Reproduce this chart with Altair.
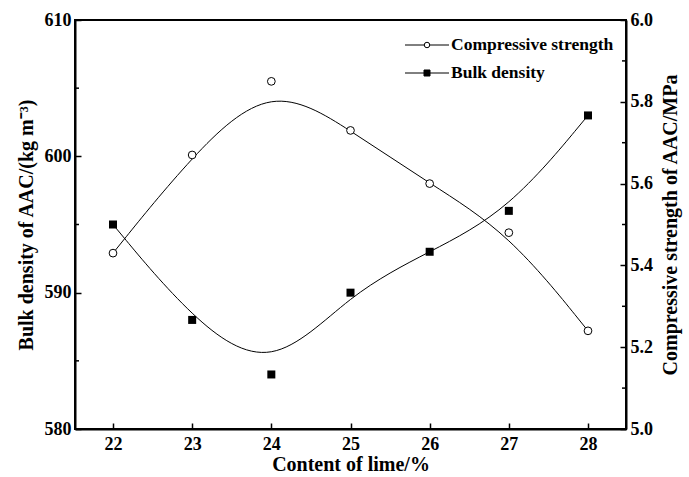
import altair as alt
import pandas as pd

# ---- data ----
lime = [22, 23, 24, 25, 26, 27, 28]
bulk_density = [595, 588, 584, 590, 593, 596, 603]
comp_strength = [5.43, 5.67, 5.85, 5.73, 5.60, 5.48, 5.24]

bulk_major = [580, 590, 600, 610]
bulk_minor = [585, 595, 605]
str_major = [5.0, 5.2, 5.4, 5.6, 5.8, 6.0]
str_minor = [5.1, 5.3, 5.5, 5.7, 5.9]
x_ticks = [22, 23, 24, 25, 26, 27, 28]

legend_labels = ["Compressive strength", "Bulk density"]

df = pd.DataFrame({"lime": lime, "bulk": bulk_density, "strength": comp_strength})
bulk_minor_df = pd.DataFrame({"bulk": bulk_minor})
str_minor_df = pd.DataFrame({"strength": str_minor})
one = pd.DataFrame({"k": [0]})

FONT = "Liberation Serif"
W, H = 551, 409
INWARD_MAJOR = alt.ExprRef(expr="-6")

x_enc = alt.X(
    "lime:Q",
    scale=alt.Scale(domain=[21.52, 28.48], nice=False, zero=False),
    axis=alt.Axis(values=x_ticks, format="d", title="Content of lime/%",
                  tickSize=INWARD_MAJOR, labelPadding=12, titlePadding=1),
)

y_bulk = alt.Y(
    "bulk:Q",
    scale=alt.Scale(domain=[580, 610], nice=False, zero=False),
    axis=alt.Axis(values=bulk_major, format="d", orient="left",
                  title="Bulk density of AAC/(kg m\u207b\u00b3)",
                  tickSize=INWARD_MAJOR, labelPadding=10, titlePadding=8),
)

y_str = alt.Y(
    "strength:Q",
    scale=alt.Scale(domain=[5.0, 6.0], nice=False, zero=False),
    axis=alt.Axis(values=str_major, format=".1f", orient="right",
                  title="Compressive strength of AAC/MPa", titleAngle=270,
                  titleBaseline="top",
                  tickSize=INWARD_MAJOR, labelPadding=10, titlePadding=8),
)

base = alt.Chart(df)

bulk_line = base.mark_line(interpolate="basis", color="black", strokeWidth=1).encode(x=x_enc, y=y_bulk)
bulk_pts = base.mark_point(shape="square", filled=True, color="black", size=64, opacity=1).encode(x=x_enc, y=y_bulk)
bulk_minor_ticks = alt.Chart(bulk_minor_df).mark_rule(color="black", strokeWidth=1.5).encode(
    y=y_bulk, x=alt.value(0), x2=alt.value(4))

str_line = base.mark_line(interpolate="basis", color="black", strokeWidth=1).encode(x=x_enc, y=y_str)
str_pts = base.mark_point(shape="circle", filled=True, fill="white", stroke="black",
                          strokeWidth=1, size=60, opacity=1).encode(x=x_enc, y=y_str)
str_minor_ticks = alt.Chart(str_minor_df).mark_rule(color="black", strokeWidth=1.5).encode(
    y=y_str, x=alt.value(W - 4), x2=alt.value(W))

left = alt.layer(bulk_line, bulk_pts, bulk_minor_ticks)
right = alt.layer(str_line, str_pts, str_minor_ticks)

# ---- legend (upper right) ----
def legend_row(label, ypos, shape, fill):
    line = alt.Chart(one).mark_rule(color="black", strokeWidth=1).encode(
        x=alt.value(330), x2=alt.value(374), y=alt.value(ypos))
    sym = alt.Chart(one).mark_point(shape=shape, filled=True, fill=fill, stroke="black",
                                    strokeWidth=1, size=30 if shape == "circle" else 36,
                                    opacity=1).encode(x=alt.value(352), y=alt.value(ypos))
    txt = alt.Chart(one).mark_text(align="left", baseline="middle", font=FONT, fontSize=17.5,
                                   fontWeight="bold", color="black").encode(
        x=alt.value(376), y=alt.value(ypos), text=alt.value(label))
    return [line, sym, txt]

legend_layers = legend_row(legend_labels[0], 25, "circle", "white") + \
                legend_row(legend_labels[1], 53, "square", "black")

chart = alt.layer(left, right, *legend_layers).resolve_scale(y="independent").properties(
    width=W, height=H,
    autosize=alt.AutoSizeParams(type="none"),
    padding={"left": 75, "top": 20, "right": 63, "bottom": 48},
    background="white",
).configure_view(stroke="black", strokeWidth=2).configure_axis(
    labelFont=FONT, labelFontSize=18, labelFontWeight="bold", labelColor="black",
    titleFont=FONT, titleFontSize=20, titleFontWeight="bold", titleColor="black",
    domainColor="black", domainWidth=2, tickColor="black", tickWidth=1.5, grid=False,
)

chart.save("out.html", embed_options={"renderer": "svg", "actions": False})
